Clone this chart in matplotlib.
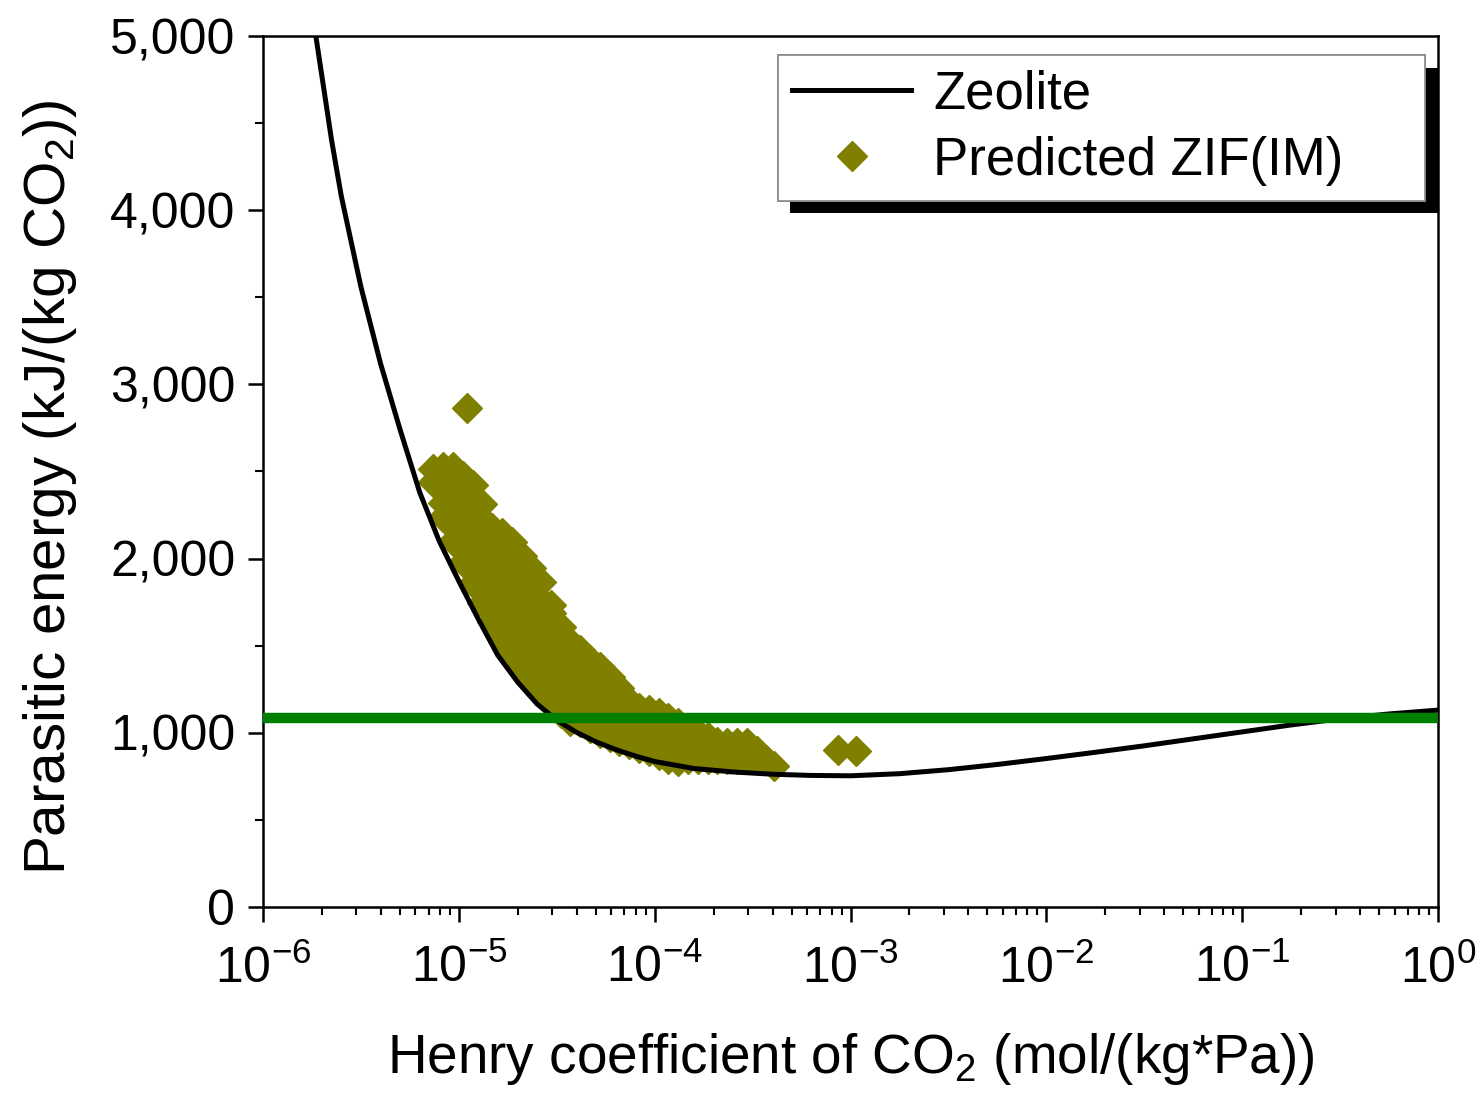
import numpy as np
import matplotlib
matplotlib.use('Agg')
import matplotlib.pyplot as plt
import matplotlib.ticker as mtick
import matplotlib.patheffects as pe

# Zeolite reference curve
zeolite_k = [1.86e-6, 2.24e-6, 2.51e-6, 3.16e-6, 3.98e-6, 5.01e-6, 6.31e-6, 7.94e-6,
             1.0e-5, 1.26e-5, 1.58e-5, 2.0e-5, 2.51e-5, 3.16e-5, 3.98e-5, 5.01e-5,
             6.31e-5, 7.94e-5, 1.0e-4, 1.58e-4, 2.51e-4, 3.98e-4, 6.31e-4, 1.0e-3,
             1.78e-3, 3.16e-3, 5.62e-3, 1.0e-2, 1.78e-2, 3.16e-2, 5.62e-2, 0.1,
             0.178, 0.316, 0.562, 1.0]
zeolite_energy = [5000, 4400, 4080, 3560, 3120, 2740, 2380, 2100,
                  1870, 1650, 1445, 1290, 1165, 1072, 1003, 948,
                  904, 867, 835, 795, 775, 762, 755, 753,
                  765, 788, 818, 852, 888, 925, 965, 1005,
                  1045, 1080, 1108, 1130]

# Predicted ZIF(IM) points, grouped by Henry coefficient
zif_col_k = [7.413e-6, 8.318e-6, 9.333e-6, 1.047e-5, 1.175e-5, 1.318e-5, 1.479e-5, 1.66e-5,
             1.862e-5, 2.089e-5, 2.344e-5, 2.63e-5, 2.951e-5, 3.311e-5, 3.715e-5, 4.169e-5,
             4.677e-5, 5.248e-5, 5.888e-5, 6.607e-5, 7.413e-5, 8.318e-5, 9.333e-5, 1.047e-4,
             1.175e-4, 1.318e-4, 1.479e-4, 1.66e-4, 1.862e-4, 2.089e-4, 2.344e-4, 2.63e-4,
             2.951e-4, 3.311e-4, 3.715e-4, 4.074e-4]
zif_col_energy = [
    [2440, 2515],
    [2240, 2320, 2400, 2470, 2525],
    [2100, 2180, 2260, 2340, 2420, 2490, 2525],
    [1980, 2060, 2140, 2220, 2300, 2380, 2474],
    [1860, 1940, 2020, 2100, 2180, 2260, 2340, 2420],
    [1745, 1825, 1905, 1985, 2065, 2145, 2230, 2315],
    [1635, 1715, 1795, 1875, 1955, 2035, 2110, 2175],
    [1540, 1620, 1700, 1780, 1860, 1940, 2020, 2090, 2145],
    [1450, 1530, 1610, 1690, 1770, 1850, 1930, 2010, 2095],
    [1365, 1445, 1525, 1605, 1685, 1765, 1845, 1925, 2015],
    [1290, 1370, 1450, 1530, 1610, 1690, 1770, 1850, 1945],
    [1225, 1300, 1375, 1450, 1525, 1600, 1680, 1760, 1865],
    [1165, 1240, 1315, 1390, 1465, 1540, 1620, 1690, 1735],
    [1115, 1185, 1255, 1325, 1395, 1465, 1540, 1605],
    [1070, 1140, 1210, 1280, 1350, 1420, 1520],
    [1060, 1130, 1200, 1270, 1340, 1410, 1475],
    [1030, 1095, 1160, 1225, 1290, 1355, 1415],
    [1000, 1065, 1130, 1195, 1260, 1320, 1375],
    [975, 1035, 1095, 1155, 1215, 1270, 1320],
    [955, 1015, 1075, 1135, 1195, 1255],
    [935, 990, 1045, 1100, 1150, 1180],
    [915, 970, 1025, 1080, 1145],
    [895, 955, 1015, 1075, 1130],
    [870, 930, 990, 1050, 1115],
    [850, 910, 970, 1030, 1085],
    [840, 895, 950, 1005, 1055],
    [850, 910, 970, 1025],
    [850, 900, 950, 1000],
    [850, 910, 975],
    [850, 900, 945],
    [850, 900, 940],
    [850, 900, 940],
    [850, 900, 940],
    [850, 895],
    [845],
    [810],
]
zif_extra_k = [1.1e-5, 8.6e-4, 1.07e-3]
zif_extra_energy = [2865, 900, 895]

threshold_energy = 1085

plt.rcParams['font.family'] = ['Liberation Sans', 'DejaVu Sans']
plt.rcParams['mathtext.fontset'] = 'custom'
plt.rcParams['mathtext.rm'] = 'Liberation Sans'
plt.rcParams['mathtext.it'] = 'Liberation Sans:italic'
plt.rcParams['mathtext.bf'] = 'Liberation Sans:bold'

fig = plt.figure(figsize=(14.82, 10.98), dpi=100)
ax = fig.add_axes([0.1775, 0.174, 0.7928, 0.7932])

zif_k = np.concatenate([np.repeat(zif_col_k, [len(v) for v in zif_col_energy]), zif_extra_k])
zif_energy = np.concatenate([np.concatenate(zif_col_energy), zif_extra_energy])

ax.plot(zeolite_k, zeolite_energy, color='black', lw=3.6, label='Zeolite', zorder=3)
ax.plot(zif_k, zif_energy, ls='none', marker='D', ms=15, color='#808000',
        mec='#808000', label='Predicted ZIF(IM)', zorder=2)
ax.axhline(threshold_energy, color='#008000', lw=7.5, zorder=4)

ax.set_xscale('log')
ax.set_xlim(1e-6, 1)
ax.set_ylim(0, 5000)
ax.yaxis.set_major_locator(mtick.MultipleLocator(1000))
ax.yaxis.set_minor_locator(mtick.MultipleLocator(500))
ax.yaxis.set_major_formatter(mtick.StrMethodFormatter('{x:,.0f}'))
ax.xaxis.set_major_locator(mtick.LogLocator(base=10, numticks=20))
ax.xaxis.set_minor_locator(mtick.LogLocator(base=10, subs=np.arange(2, 10), numticks=20))
ax.xaxis.set_minor_formatter(mtick.NullFormatter())

ax.tick_params(which='major', direction='out', length=11, width=1.8, labelsize=36, pad=9)
ax.tick_params(axis='x', which='major', pad=16)
ax.tick_params(which='minor', direction='out', length=6, width=1.5)
for s in ax.spines.values():
    s.set_linewidth(1.8)

ax.set_xlabel('Henry coefficient of CO$_2$ (mol/(kg*Pa))', fontsize=39.5, labelpad=28)
ax.set_ylabel('Parasitic energy (kJ/(kg CO$_2$))', fontsize=42, labelpad=22)
ax.yaxis.label.set_y(0.482)

leg = ax.legend(loc='upper left', bbox_to_anchor=(0.438, 0.978, 0.551, 0.0), mode='expand',
                fontsize=38, handlelength=2.25, handletextpad=0.42, borderaxespad=0,
                fancybox=False, edgecolor='#888888', framealpha=1, labelspacing=0.3,
                borderpad=0.28)
leg.get_frame().set_linewidth(1.2)
leg.get_frame().set_path_effects([pe.withSimplePatchShadow(offset=(9, -9), shadow_rgbFace='black', alpha=1.0),
                                  pe.Normal()])

fig.savefig('out.png', dpi=100)
